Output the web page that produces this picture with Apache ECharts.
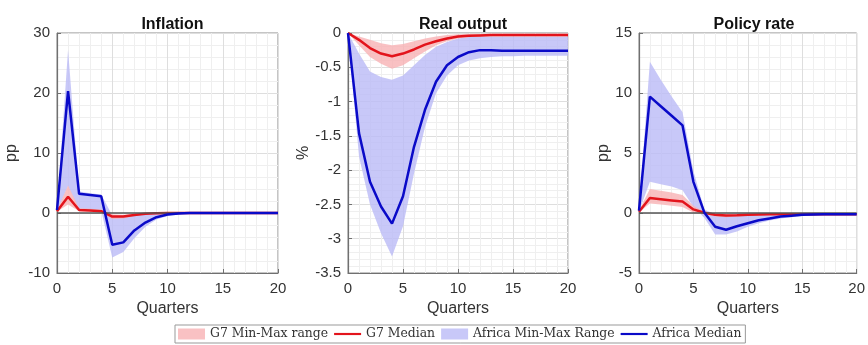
<!DOCTYPE html>
<html>
<head>
<meta charset="utf-8">
<script src="https://cdn.jsdelivr.net/npm/echarts@6/dist/echarts.min.js"></script>
<style>
  html, body { margin: 0; padding: 0; background: #fff; }
  #chart { width: 868px; height: 345px; }
</style>
</head>
<body>
<div id="chart"></div>
<script>
// quarters after the shock
const quarters = [0, 1, 2, 3, 4, 5, 6, 7, 8, 9, 10, 11, 12, 13, 14, 15, 16, 17, 18, 19, 20];

// Inflation (pp)
const inflG7Med = [0.3, 2.7, 0.5, 0.4, 0.3, -0.6, -0.6, -0.35, -0.12, -0.03, 0, 0, 0, 0, 0, 0, 0, 0, 0, 0, 0];
const inflG7Lo = [0.2, 1.4, 0.3, 0.2, 0.1, -1.0, -0.9, -0.5, -0.2, -0.1, -0.03, 0, 0, 0, 0, 0, 0, 0, 0, 0, 0];
const inflG7Hi = [0.4, 4.6, 0.8, 0.7, 0.6, -0.2, -0.3, -0.1, 0, 0, 0, 0, 0, 0, 0, 0, 0, 0, 0, 0, 0];
const inflAfMed = [0.5, 20.3, 3.2, 3.0, 2.8, -5.3, -4.9, -2.9, -1.6, -0.7, -0.25, -0.08, 0, 0, 0, 0, 0, 0, 0, 0, 0];
const inflAfLo = [0.3, 4.5, 0.6, 0.5, 0.4, -7.4, -6.5, -4.2, -2.3, -1.1, -0.5, -0.2, -0.1, 0, 0, 0, 0, 0, 0, 0, 0];
const inflAfHi = [0.5, 27.2, 3.6, 3.3, 3.1, -0.4, -0.5, -0.3, -0.1, 0, 0, 0, 0, 0, 0, 0, 0, 0, 0, 0, 0];

// Real output (%)
const gdpG7Med = [0, -0.1, -0.22, -0.3, -0.34, -0.3, -0.24, -0.17, -0.12, -0.08, -0.05, -0.04, -0.035, -0.03, -0.03, -0.03, -0.03, -0.03, -0.03, -0.03, -0.03];
const gdpG7Lo = [0, -0.18, -0.35, -0.45, -0.52, -0.47, -0.37, -0.27, -0.18, -0.12, -0.08, -0.06, -0.05, -0.05, -0.05, -0.05, -0.05, -0.05, -0.05, -0.05, -0.05];
const gdpG7Hi = [0, -0.05, -0.1, -0.15, -0.18, -0.16, -0.12, -0.08, -0.05, -0.03, -0.02, -0.01, -0.01, -0.01, -0.01, -0.01, -0.01, -0.01, -0.01, -0.01, -0.01];
const gdpAfMed = [0, -1.46, -2.17, -2.53, -2.78, -2.38, -1.66, -1.12, -0.71, -0.47, -0.35, -0.28, -0.25, -0.25, -0.26, -0.26, -0.26, -0.26, -0.26, -0.26, -0.26];
const gdpAfLo = [0, -1.8, -2.5, -2.92, -3.26, -2.82, -2.05, -1.37, -0.88, -0.62, -0.47, -0.4, -0.37, -0.35, -0.34, -0.34, -0.33, -0.33, -0.33, -0.33, -0.33];
const gdpAfHi = [0, -0.3, -0.56, -0.64, -0.68, -0.62, -0.47, -0.32, -0.2, -0.13, -0.08, -0.06, -0.05, -0.05, -0.05, -0.05, -0.05, -0.05, -0.05, -0.05, -0.05];

// Policy rate (pp)
const rateG7Med = [0.1, 1.25, 1.15, 1.05, 0.95, 0.3, 0.02, -0.15, -0.2, -0.18, -0.15, -0.12, -0.1, -0.1, -0.1, -0.1, -0.1, -0.1, -0.1, -0.1, -0.1];
const rateG7Lo = [0.05, 0.8, 0.7, 0.6, 0.5, 0.05, -0.1, -0.3, -0.35, -0.3, -0.25, -0.2, -0.15, -0.15, -0.15, -0.15, -0.15, -0.15, -0.15, -0.15, -0.15];
const rateG7Hi = [0.2, 2.0, 1.85, 1.7, 1.5, 0.6, 0.1, -0.05, -0.1, -0.08, -0.05, -0.05, -0.05, -0.05, -0.05, -0.05, -0.05, -0.05, -0.05, -0.05, -0.05];
const rateAfMed = [0.2, 9.7, 8.9, 8.1, 7.3, 2.6, 0.05, -1.15, -1.4, -1.1, -0.85, -0.6, -0.45, -0.3, -0.22, -0.15, -0.12, -0.1, -0.1, -0.1, -0.1];
const rateAfLo = [0.1, 2.6, 2.4, 2.2, 1.9, 0.5, -0.4, -1.8, -1.8, -1.55, -1.15, -0.85, -0.62, -0.45, -0.35, -0.25, -0.2, -0.15, -0.12, -0.1, -0.1];
const rateAfHi = [0.3, 12.6, 11.1, 9.7, 8.4, 3.5, 0.3, -0.1, -0.1, -0.05, 0, 0, 0, 0, 0, 0, 0, 0, 0, 0, 0];

const panelTitles = ['Inflation', 'Real output', 'Policy rate'];
const yNames = ['pp', '%', 'pp'];
const yMin = [-10, -3.5, -5];
const yMax = [30, 0, 15];
const yStep = [10, 0.5, 5];

const panels = [
    { g7: [inflG7Lo, inflG7Med, inflG7Hi], af: [inflAfLo, inflAfMed, inflAfHi], zero: true },
    { g7: [gdpG7Lo, gdpG7Med, gdpG7Hi], af: [gdpAfLo, gdpAfMed, gdpAfHi], zero: false },
    { g7: [rateG7Lo, rateG7Med, rateG7Hi], af: [rateAfLo, rateAfMed, rateAfHi], zero: true },
];

const RED = '#e3141c';
const BLUE = '#0a0ac8';
const PINK = 'rgba(247, 178, 180, 0.8)';
const LAV = 'rgba(186, 186, 246, 0.8)';

const gridLefts = [57, 348, 639];
const gridWidths = [221, 220, 220];
const nameGaps = [37, 33, 25];

const pairs = arr => quarters.map((q, i) => [q, arr[i]]);

// min-max band drawn as one polygon through the axis scales
function band(name, k, lo, hi, color, z) {
    return {
        type: 'custom', name: name, xAxisIndex: k, yAxisIndex: k, z: z, silent: true,
        data: quarters.map((q, i) => [q, lo[i], hi[i]]),
        encode: { x: 0, y: [1, 2] },
        itemStyle: { color: color },
        renderItem: function (params, api) {
            if (params.dataIndex !== 0) return null;
            const pts = [];
            quarters.forEach((q, i) => pts.push(api.coord([q, hi[i]])));
            for (let i = quarters.length - 1; i >= 0; i--) pts.push(api.coord([quarters[i], lo[i]]));
            return {
                type: 'polygon',
                shape: { points: pts },
                style: { fill: color, stroke: 'none' }
            };
        }
    };
}

const grid = [], xAxis = [], yAxis = [], title = [], series = [];

panels.forEach((p, k) => {
    grid.push({
        left: gridLefts[k], top: 33, width: gridWidths[k], height: 240,
        show: true, borderColor: '#8a8a8a', borderWidth: 1, backgroundColor: '#fff'
    });
    title.push({
        text: panelTitles[k],
        left: gridLefts[k] + gridWidths[k] / 2,
        top: 12,
        textAlign: 'center',
        textStyle: { fontFamily: 'Liberation Sans', fontWeight: 'bold', fontSize: 16, color: '#111' }
    });
    xAxis.push({
        type: 'value', gridIndex: k, min: 0, max: 20, interval: 5,
        name: 'Quarters', nameLocation: 'middle', nameGap: 27,
        nameTextStyle: { fontFamily: 'Liberation Sans', fontSize: 16, color: '#333' },
        axisLine: { onZero: false, lineStyle: { color: '#707070', width: 1.2 } },
        axisTick: { inside: true, length: 4, lineStyle: { color: '#707070' } },
        axisLabel: { fontFamily: 'Liberation Sans', fontSize: 15, color: '#333', margin: 8 },
        splitLine: { show: true, lineStyle: { color: '#dedede', width: 1 } },
        minorTick: { show: false, splitNumber: 5 },
        minorSplitLine: { show: true, lineStyle: { color: '#efefef', width: 1 } }
    });
    yAxis.push({
        type: 'value', gridIndex: k, min: yMin[k], max: yMax[k], interval: yStep[k],
        name: yNames[k], nameLocation: 'middle', nameGap: nameGaps[k],
        nameTextStyle: { fontFamily: 'Liberation Sans', fontSize: 16, color: '#333' },
        axisLine: { show: true, onZero: false, lineStyle: { color: '#707070', width: 1.2 } },
        axisTick: { show: true, inside: true, length: 4, lineStyle: { color: '#707070' } },
        axisLabel: { fontFamily: 'Liberation Sans', fontSize: 15, color: '#333', margin: 7 },
        splitLine: { show: true, lineStyle: { color: '#dedede', width: 1 } },
        minorTick: { show: false, splitNumber: 5 },
        minorSplitLine: { show: true, lineStyle: { color: '#efefef', width: 1 } }
    });

    series.push(band('Africa Min-Max Range', k, p.af[0], p.af[2], LAV, 1));
    series.push(band('G7 Min-Max range', k, p.g7[0], p.g7[2], PINK, 2));

    const base = { type: 'line', xAxisIndex: k, yAxisIndex: k, symbol: 'none', silent: true };
    const g7Line = Object.assign({}, base, {
        name: 'G7 Median', data: pairs(p.g7[1]),
        itemStyle: { color: RED }, lineStyle: { color: RED, width: 2.5 }, z: 4
    });
    if (p.zero) {
        g7Line.markLine = {
            silent: true, symbol: 'none', label: { show: false },
            lineStyle: { color: '#555', width: 1.5, type: 'solid' },
            data: [{ yAxis: 0 }]
        };
    }
    series.push(g7Line);
    series.push(Object.assign({}, base, {
        name: 'Africa Median', data: pairs(p.af[1]),
        itemStyle: { color: BLUE }, lineStyle: { color: BLUE, width: 2.5 }, z: 5
    }));
});

const chart = echarts.init(document.getElementById('chart'));
chart.setOption({
    animation: false,
    backgroundColor: '#fff',
    title: title,
    grid: grid,
    xAxis: xAxis,
    yAxis: yAxis,
    legend: {
        left: 175, top: 325,
        itemWidth: 27, itemHeight: 11, itemGap: 6,
        padding: [3, 4, 3, 3],
        borderColor: '#999', borderWidth: 1,
        selectedMode: false,
        textStyle: { fontFamily: 'DejaVu Serif', fontSize: 12.4, color: '#333' },
        data: [
            { name: 'G7 Min-Max range', icon: 'rect', itemStyle: { color: PINK } },
            { name: 'G7 Median', icon: 'path://M0,0H30V2.4H0Z', itemStyle: { color: RED } },
            { name: 'Africa Min-Max Range', icon: 'rect', itemStyle: { color: LAV } },
            { name: 'Africa Median', icon: 'path://M0,0H30V2.4H0Z', itemStyle: { color: BLUE } }
        ]
    },
    series: series
});
</script>
</body>
</html>
